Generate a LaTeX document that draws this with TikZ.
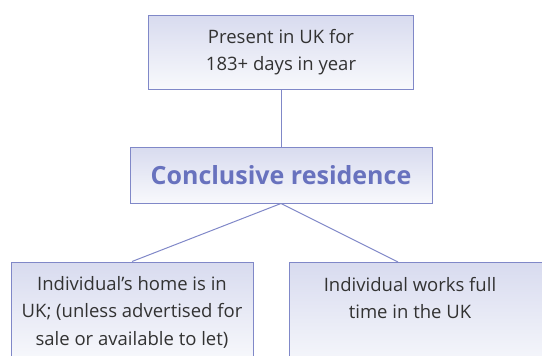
\documentclass[tikz,border=0pt]{standalone}
\usepackage{fontspec}
\setmainfont{Open Sans}
\usetikzlibrary{positioning}
\definecolor{boxline}{RGB}{128,136,200}
\definecolor{boxtop}{RGB}{216,219,239}
\definecolor{boxbot}{RGB}{248,249,252}
\definecolor{headblue}{RGB}{104,114,190}
\definecolor{txtgray}{RGB}{50,50,50}
\tikzset{
  box/.style={draw=boxline, line width=1pt, top color=boxtop, bottom color=boxbot,
              text=txtgray, font=\fontsize{18.5}{27.5}\selectfont, align=center, inner sep=0pt},
  link/.style={draw=boxline, line width=1pt}
}
\begin{document}
\begin{tikzpicture}[x=1pt,y=-1pt]
\clip (0,0) rectangle (542,356);

% boxes
\node[box, minimum width=265pt, minimum height=74pt] (present) at (281,52)
  {Present in UK for\\183+ days in year};
\node[box, minimum width=302pt, minimum height=56pt,
      font=\fontsize{25}{30}\selectfont\bfseries, text=headblue] (conclusive) at (281,175)
  {Conclusive residence};
\node[box, minimum width=242pt, minimum height=100pt] (home) at (132,312)
  {Individual’s home is in\\UK; (unless advertised for\\sale or available to let)};
\shade[top color=boxtop, bottom color=boxbot, draw=boxline, line width=1pt]
  (289,262) rectangle (570,372);
\node[text=txtgray, font=\fontsize{18.5}{27.5}\selectfont, align=center] (work) at (410,298)
  {Individual works full\\time in the UK};
\coordinate (worktop) at (398,262);

% links
\draw[link] (present) -- (conclusive);
\draw[link] (conclusive.south) -- (home.north);
\draw[link] (conclusive.south) -- (worktop);
\end{tikzpicture}
\end{document}
